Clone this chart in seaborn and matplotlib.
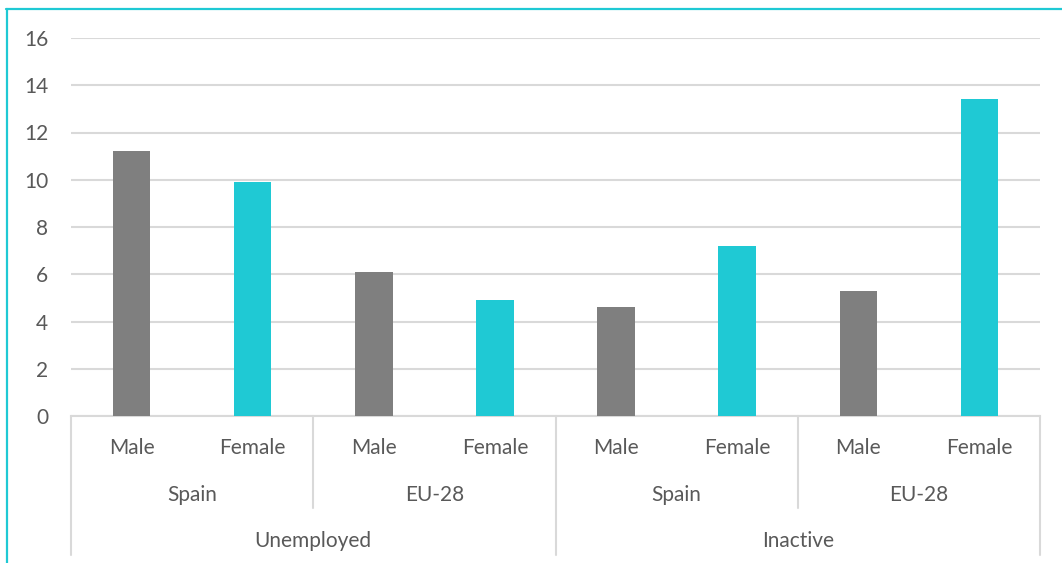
import matplotlib
matplotlib.use("Agg")
import matplotlib.pyplot as plt
import matplotlib.transforms as mtransforms
from matplotlib.lines import Line2D
import seaborn as sns
import pandas as pd

# Labour status by region and sex (values in %)
status = ["Unemployed", "Unemployed", "Unemployed", "Unemployed",
          "Inactive", "Inactive", "Inactive", "Inactive"]
region = ["Spain", "Spain", "EU-28", "EU-28", "Spain", "Spain", "EU-28", "EU-28"]
sex = ["Male", "Female", "Male", "Female", "Male", "Female", "Male", "Female"]
values = [11.2, 9.9, 6.1, 4.9, 4.6, 7.2, 5.3, 13.4]
y_ticks = [0, 2, 4, 6, 8, 10, 12, 14, 16]

GREY = "#7F7F7F"
TEAL = "#1FC9D4"
GRID = "#D9D9D9"
TEXT = "#595959"

sns.set_style("white")
plt.rcParams["font.family"] = ["Lato", "DejaVu Sans"]

W, H = 1062, 563
fig = plt.figure(figsize=(W / 100, H / 100), dpi=100)
ax = fig.add_axes([71 / W, 1 - 416 / H, (1040 - 71) / W, (416 - 38) / H])

keys = [f"{s}|{r}|{x}" for s, r, x in zip(status, region, sex)]
df = pd.DataFrame({"key": keys, "sex": sex, "value": values})

sns.barplot(data=df, x="key", y="value", hue="sex", order=keys,
            palette={"Male": GREY, "Female": TEAL}, dodge=False,
            saturation=1, width=0.31, legend=False, ax=ax, zorder=3,
            linewidth=0)

ax.set_xlim(-0.5, len(keys) - 0.5)
ax.set_ylim(0, 16)
ax.set_yticks(y_ticks)
ax.set_yticklabels([str(t) for t in y_ticks])
ax.yaxis.grid(True, color=GRID, linewidth=1.5, zorder=0)
ax.set_axisbelow(True)
ax.tick_params(axis="y", length=0, pad=16.5, labelsize=15, labelcolor=TEXT)
ax.set_xticks([])
ax.set_xlabel("")
ax.set_ylabel("")
for side in ["left", "right", "top"]:
    ax.spines[side].set_visible(False)
ax.spines["bottom"].set_color(GRID)
ax.spines["bottom"].set_linewidth(1.5)

# Multi-level category axis
trans = mtransforms.blended_transform_factory(ax.transData, fig.transFigure)


def fy(px):
    return 1 - px / H


fs = 15
for i, s in enumerate(sex):
    ax.text(i, fy(448), s, transform=trans, ha="center", va="center",
            fontsize=fs, color=TEXT)

for j in range(0, len(keys), 2):
    ax.text(j + 0.5, fy(495), region[j], transform=trans, ha="center",
            va="center", fontsize=fs, color=TEXT)

for j in range(0, len(keys), 4):
    ax.text(j + 1.5, fy(541), status[j], transform=trans, ha="center",
            va="center", fontsize=fs, color=TEXT)

# Group separators
for xpos, bottom in [(-0.5, 555), (1.5, 508), (3.5, 555), (5.5, 508), (7.5, 555)]:
    ax.add_line(Line2D([xpos, xpos], [fy(416), fy(bottom)], transform=trans,
                       color=GRID, linewidth=1.5, clip_on=False))

# Chart frame
fig.add_artist(Line2D([6 / W, 1], [fy(9), fy(9)], transform=fig.transFigure,
                      color=TEAL, linewidth=1.6))
fig.add_artist(Line2D([7 / W, 7 / W], [fy(9), 0], transform=fig.transFigure,
                      color=TEAL, linewidth=1.6))

fig.savefig("out.png", dpi=100, facecolor="white")
